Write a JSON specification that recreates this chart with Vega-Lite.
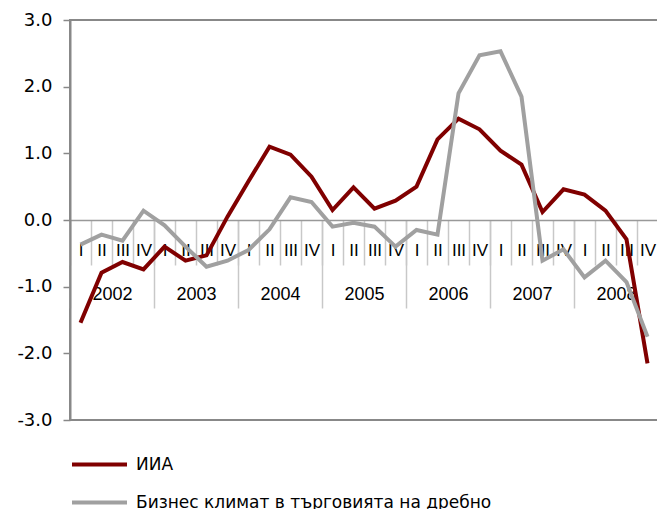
{
  "$schema": "https://vega.github.io/schema/vega-lite/v6.json",
  "autosize": {"type": "none"},
  "padding": {"left": 70, "top": 20, "right": 0, "bottom": 89},
  "width": 588,
  "height": 400,
  "background": "white",
  "config": {"view": {"stroke": "#888888", "strokeWidth": 2}},
  "data": {"values": [
    {"q":"2002-I","year":"2002","series":"ИИА","value":-1.54},
    {"q":"2002-II","year":"2002","series":"ИИА","value":-0.79},
    {"q":"2002-III","year":"2002","series":"ИИА","value":-0.63},
    {"q":"2002-IV","year":"2002","series":"ИИА","value":-0.74},
    {"q":"2003-I","year":"2003","series":"ИИА","value":-0.40},
    {"q":"2003-II","year":"2003","series":"ИИА","value":-0.61},
    {"q":"2003-III","year":"2003","series":"ИИА","value":-0.53},
    {"q":"2003-IV","year":"2003","series":"ИИА","value":0.05},
    {"q":"2004-I","year":"2004","series":"ИИА","value":0.58},
    {"q":"2004-II","year":"2004","series":"ИИА","value":1.10},
    {"q":"2004-III","year":"2004","series":"ИИА","value":0.98},
    {"q":"2004-IV","year":"2004","series":"ИИА","value":0.65},
    {"q":"2005-I","year":"2005","series":"ИИА","value":0.15},
    {"q":"2005-II","year":"2005","series":"ИИА","value":0.49},
    {"q":"2005-III","year":"2005","series":"ИИА","value":0.17},
    {"q":"2005-IV","year":"2005","series":"ИИА","value":0.29},
    {"q":"2006-I","year":"2006","series":"ИИА","value":0.50},
    {"q":"2006-II","year":"2006","series":"ИИА","value":1.21},
    {"q":"2006-III","year":"2006","series":"ИИА","value":1.52},
    {"q":"2006-IV","year":"2006","series":"ИИА","value":1.36},
    {"q":"2007-I","year":"2007","series":"ИИА","value":1.04},
    {"q":"2007-II","year":"2007","series":"ИИА","value":0.83},
    {"q":"2007-III","year":"2007","series":"ИИА","value":0.12},
    {"q":"2007-IV","year":"2007","series":"ИИА","value":0.46},
    {"q":"2008-I","year":"2008","series":"ИИА","value":0.38},
    {"q":"2008-II","year":"2008","series":"ИИА","value":0.14},
    {"q":"2008-III","year":"2008","series":"ИИА","value":-0.29},
    {"q":"2008-IV","year":"2008","series":"ИИА","value":-2.15},
    {"q":"2002-I","year":"2002","series":"Бизнес климат в търговията на дребно","value":-0.37},
    {"q":"2002-II","year":"2002","series":"Бизнес климат в търговията на дребно","value":-0.22},
    {"q":"2002-III","year":"2002","series":"Бизнес климат в търговията на дребно","value":-0.31},
    {"q":"2002-IV","year":"2002","series":"Бизнес климат в търговията на дребно","value":0.14},
    {"q":"2003-I","year":"2003","series":"Бизнес климат в търговията на дребно","value":-0.08},
    {"q":"2003-II","year":"2003","series":"Бизнес климат в търговията на дребно","value":-0.40},
    {"q":"2003-III","year":"2003","series":"Бизнес климат в търговията на дребно","value":-0.70},
    {"q":"2003-IV","year":"2003","series":"Бизнес климат в търговията на дребно","value":-0.61},
    {"q":"2004-I","year":"2004","series":"Бизнес климат в търговията на дребно","value":-0.45},
    {"q":"2004-II","year":"2004","series":"Бизнес климат в търговията на дребно","value":-0.14},
    {"q":"2004-III","year":"2004","series":"Бизнес климат в търговията на дребно","value":0.34},
    {"q":"2004-IV","year":"2004","series":"Бизнес климат в търговията на дребно","value":0.27},
    {"q":"2005-I","year":"2005","series":"Бизнес климат в търговията на дребно","value":-0.10},
    {"q":"2005-II","year":"2005","series":"Бизнес климат в търговията на дребно","value":-0.04},
    {"q":"2005-III","year":"2005","series":"Бизнес климат в търговията на дребно","value":-0.10},
    {"q":"2005-IV","year":"2005","series":"Бизнес климат в търговията на дребно","value":-0.40},
    {"q":"2006-I","year":"2006","series":"Бизнес климат в търговията на дребно","value":-0.15},
    {"q":"2006-II","year":"2006","series":"Бизнес климат в търговията на дребно","value":-0.22},
    {"q":"2006-III","year":"2006","series":"Бизнес климат в търговията на дребно","value":1.90},
    {"q":"2006-IV","year":"2006","series":"Бизнес климат в търговията на дребно","value":2.47},
    {"q":"2007-I","year":"2007","series":"Бизнес климат в търговията на дребно","value":2.53},
    {"q":"2007-II","year":"2007","series":"Бизнес климат в търговията на дребно","value":1.85},
    {"q":"2007-III","year":"2007","series":"Бизнес климат в търговията на дребно","value":-0.61},
    {"q":"2007-IV","year":"2007","series":"Бизнес климат в търговията на дребно","value":-0.44},
    {"q":"2008-I","year":"2008","series":"Бизнес климат в търговията на дребно","value":-0.86},
    {"q":"2008-II","year":"2008","series":"Бизнес климат в търговията на дребно","value":-0.61},
    {"q":"2008-III","year":"2008","series":"Бизнес климат в търговията на дребно","value":-0.93},
    {"q":"2008-IV","year":"2008","series":"Бизнес климат в търговията на дребно","value":-1.75}
  ]},
  "layer": [
    {
      "mark": {"type": "point", "opacity": 0},
      "encoding": {
        "x": {
          "field": "year", "type": "ordinal",
          "scale": {"type": "band", "paddingInner": 0, "paddingOuter": 0},
          "axis": {
            "orient": "bottom", "offset": -200, "title": null, "domain": false,
            "tickBand": "extent", "tickSize": 88, "tickColor": "#c8c8c8", "tickWidth": 1.5,
            "labelPadding": -23, "labelFont": "Liberation Sans", "labelFontSize": 18,
            "labelColor": "#000000", "labelAngle": 0, "labelOverlap": false
          }
        }
      }
    },
    {
      "mark": {"type": "line", "strokeWidth": 4},
      "encoding": {
        "x": {
          "field": "q", "type": "ordinal", "sort": null, "bandPosition": 0.5,
          "scale": {"type": "band", "paddingInner": 0, "paddingOuter": 0},
          "axis": {
            "orient": "bottom", "offset": -200, "title": null,
            "domain": true, "domainColor": "#999999", "domainWidth": 1.5,
            "tickBand": "extent", "tickSize": 45, "tickColor": "#c8c8c8", "tickWidth": 1.5,
            "labelPadding": -23, "labelFont": "Liberation Sans", "labelFontSize": 17,
            "labelColor": "#000000", "labelAngle": 0, "labelOverlap": false,
            "labelExpr": "split(datum.value, '-')[1]"
          }
        },
        "y": {
          "field": "value", "type": "quantitative",
          "scale": {"domain": [-3, 3], "nice": false, "zero": false},
          "axis": {
            "title": null, "values": [-3, -2, -1, 0, 1, 2, 3], "grid": false,
            "domainColor": "#888888", "domainWidth": 2,
            "tickColor": "#888888", "tickSize": 7, "tickWidth": 1.5,
            "labelPadding": 11, "labelFont": "DejaVu Sans", "labelFontSize": 18,
            "labelColor": "#000000",
            "labelExpr": "(datum.value < 0 ? '-' : '') + format(abs(datum.value), '.1f')"
          }
        },
        "color": {
          "field": "series", "type": "nominal",
          "scale": {"domain": ["ИИА", "Бизнес климат в търговията на дребно"], "range": ["#800000", "#a0a0a0"]},
          "legend": {
            "title": null, "orient": "none", "legendX": 0, "legendY": 415,
            "direction": "vertical", "symbolType": "stroke", "symbolSize": 3025,
            "symbolStrokeWidth": 4, "labelFont": "DejaVu Sans", "labelFontSize": 17,
            "labelColor": "#000000", "labelOffset": 7, "labelLimit": 0, "rowPadding": -16
          }
        }
      }
    }
  ],
  "resolve": {"scale": {"x": "independent"}, "axis": {"x": "independent"}}
}
